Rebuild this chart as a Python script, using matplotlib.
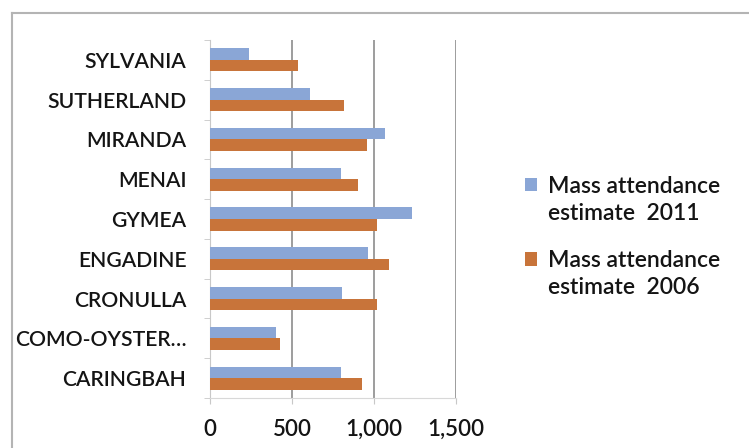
import numpy as np
import matplotlib
matplotlib.use('Agg')
import matplotlib.pyplot as plt
import matplotlib.patches as mpatches
from matplotlib.container import BarContainer
from matplotlib.lines import Line2D
from matplotlib.legend_handler import HandlerPatch

parishes = ['CARINGBAH', 'COMO-OYSTER…', 'CRONULLA', 'ENGADINE', 'GYMEA',
            'MENAI', 'MIRANDA', 'SUTHERLAND', 'SYLVANIA']
mass_2011 = [798, 402, 806, 962, 1230, 798, 1068, 608, 239]
mass_2006 = [926, 426, 1020, 1090, 1020, 902, 959, 818, 539]

blue = '#8aa6d6'
orange = '#c8743a'
text_col = '#141414'

plt.rcParams['font.family'] = ['Lato', 'DejaVu Sans']
plt.rcParams['font.weight'] = 'semibold'


def top_square(legend, orig_handle, xdescent, ydescent, width, height, fontsize):
    # put the legend key next to the first line of a two-line label
    shift = 0.68 * fontsize
    return mpatches.Rectangle((-xdescent, -ydescent + shift), width, height)


def first_bar(legend_handle, orig_handle):
    legend_handle.update_from(orig_handle.patches[0])


fig = plt.figure(figsize=(7.49, 4.48), dpi=100)
ax = fig.add_axes([0.2804, 0.1116, 0.3284, 0.7991])

y = np.arange(len(parishes))
h = 0.29
ax.barh(y + h / 2, mass_2011, height=h, color=blue, zorder=3,
        label='Mass attendance\nestimate  2011')
ax.barh(y - h / 2, mass_2006, height=h, color=orange, zorder=3,
        label='Mass attendance\nestimate  2006')

ax.set_xlim(0, 1500)
ax.set_ylim(-0.5, len(parishes) - 0.5)
ax.set_xticks([0, 500, 1000, 1500])
ax.set_xticklabels(['0', '500', '1,000', '1,500'])
ax.set_yticks(y)
ax.set_yticklabels(parishes)

# category boundary ticks on the left axis
ax.set_yticks(np.arange(-0.5, len(parishes)), minor=True)
ax.tick_params(axis='y', which='major', length=0, pad=17,
               labelsize=15.2, labelcolor=text_col)
ax.tick_params(axis='y', which='minor', length=4, color='#c8c8c8')
ax.tick_params(axis='x', length=4, color='#c8c8c8', pad=11,
               labelsize=16, labelcolor=text_col)

ax.grid(axis='x', color='#8c8c8c', linewidth=1.2, zorder=0)
for side in ['top', 'right']:
    ax.spines[side].set_visible(False)
ax.spines['left'].set_color('#c8c8c8')
ax.spines['bottom'].set_color('#d8d8d8')

leg = ax.legend(loc='center left', bbox_to_anchor=(1.196, 0.45), frameon=False,
                fontsize=16.5, handlelength=0.55, handleheight=0.55,
                handletextpad=0.45, labelspacing=1.15, labelcolor=text_col,
                handler_map={BarContainer: HandlerPatch(patch_func=top_square,
                                                        update_func=first_bar)})
for t in leg.get_texts():
    t.set_linespacing(1.35)

# outer chart frame
fig.add_artist(Line2D([12 / 749, 1], [1 - 13 / 448, 1 - 13 / 448],
                      transform=fig.transFigure, color='#b4b4b4', lw=1.5))
fig.add_artist(Line2D([12 / 749, 12 / 749], [0, 1 - 13 / 448],
                      transform=fig.transFigure, color='#b4b4b4', lw=1.5))

fig.savefig('out.png', dpi=100)
